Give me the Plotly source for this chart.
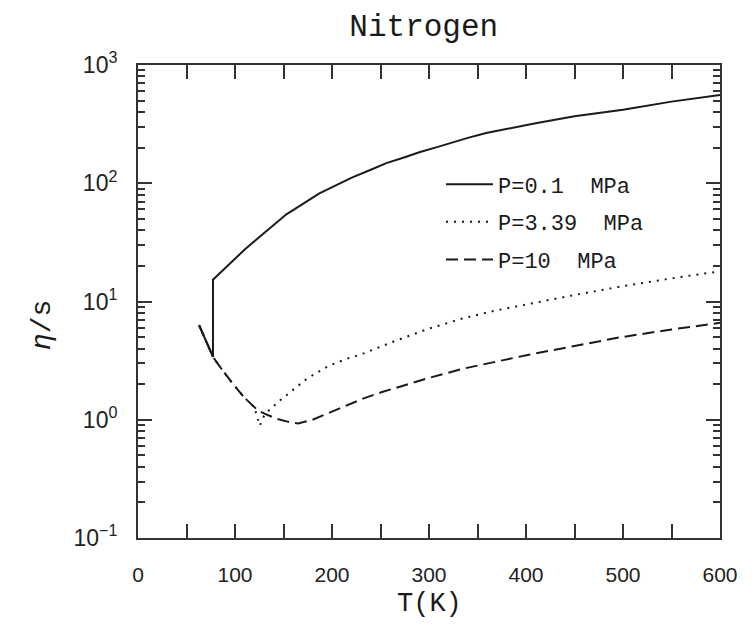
import plotly.graph_objects as go

# Temperature (K) and eta/s for nitrogen along three isobars
T_01 = [63, 70, 77.3, 77.3, 85, 92, 100, 110, 120, 135, 153, 170, 187, 205, 221, 240, 256, 275,
        290, 310, 324, 340, 359, 385, 410, 450, 500, 550, 600]
eta_s_01 = [6.3, 4.6, 3.4, 15.3, 17.6, 20.2, 23.3, 27.5, 32.3, 41, 54.6, 67, 82, 97, 112, 130, 148, 166,
            183, 204, 222, 242, 266, 293, 322, 368, 418, 490, 557]

T_339 = [63, 70, 77.3, 86, 98, 110, 120, 123, 125.5, 130, 135, 146, 160, 174, 197, 215, 232, 250, 266,
         300, 335, 369, 400, 450, 496, 550, 600]
eta_s_339 = [6.3, 4.6, 3.4, 2.7, 2.0, 1.53, 1.27, 1.05, 0.89, 1.08, 1.2, 1.45, 1.8, 2.22, 2.87, 3.27, 3.62,
             4.15, 4.67, 5.9, 7.2, 8.4, 9.45, 11.35, 13.3, 15.7, 18.0]

T_10 = [63, 70, 77.3, 86, 98, 110, 123.5, 131, 143, 155, 165, 180, 197, 215, 232, 250, 266, 300, 335,
        369, 403, 450, 496, 550, 600]
eta_s_10 = [6.3, 4.6, 3.4, 2.7, 2.0, 1.53, 1.2, 1.12, 1.02, 0.96, 0.93, 1.0, 1.15, 1.32, 1.51, 1.7, 1.87,
            2.26, 2.7, 3.1, 3.55, 4.2, 4.96, 5.8, 6.6]

series_names = ["P=0.1  MPa", "P=3.39  MPa", "P=10  MPa"]

y_ticks = [0.1, 1, 10, 100, 1000]
y_tick_text = ["10<sup>\u22121</sup>", "10<sup>0</sup>", "10<sup>1</sup>", "10<sup>2</sup>", "10<sup>3</sup>"]
y_minor = [m * d for d in (0.1, 1, 10, 100) for m in range(2, 10)]

INK = "#1a1a1a"
FRAME = "#333"
MONO = "Liberation Mono, Courier New, monospace"
SANS = "Liberation Sans, Arial, sans-serif"
Y_RANGE = [-1, 3]

fig = go.Figure()
styles = ["solid", "2px,6px", "12px,6px"]
# the last isobar sits on an overlaid log axis that carries the minor decade ticks
yaxes = ["y", "y", "y2"]
for i, (xs, ys) in enumerate([(T_01, eta_s_01), (T_339, eta_s_339), (T_10, eta_s_10)]):
    fig.add_trace(go.Scatter(
        x=xs, y=ys, mode="lines", name=series_names[i],
        legendgroup=f"g{i}", yaxis=yaxes[i],
        line=dict(color=INK, width=2, dash=styles[i]),
    ))

axis_common = dict(
    showline=True, linecolor=FRAME, linewidth=2, mirror="allticks",
    ticks="inside", ticklen=14, tickwidth=1.5, tickcolor=FRAME,
    showgrid=False, zeroline=False,
)

fig.update_xaxes(
    range=[0, 600], tickmode="linear", tick0=0, dtick=100, ticklabelstandoff=17,
    tickfont=dict(family=SANS, size=21, color="#222"),
    minor=dict(ticks="inside", ticklen=7, tickmode="linear", tick0=0, dtick=50,
               tickwidth=1.5, tickcolor=FRAME, showgrid=False),
    **axis_common,
)

fig.update_layout(
    width=756, height=629,
    margin=dict(l=138, r=36, t=65, b=91),
    paper_bgcolor="white", plot_bgcolor="white",
    yaxis=dict(
        type="log", range=Y_RANGE, tickvals=y_ticks, ticktext=y_tick_text, ticklabelstandoff=14,
        tickfont=dict(family=SANS, size=23, color="#222"),
        **axis_common,
    ),
    yaxis2=dict(
        type="log", range=Y_RANGE, overlaying="y", side="left", anchor="x",
        tickvals=y_minor, showticklabels=False,
        ticks="inside", ticklen=7, tickwidth=1.5, tickcolor=FRAME,
        mirror="ticks", showline=False, showgrid=False, zeroline=False,
    ),
    title=dict(text="Nitrogen", x=0.491, xref="paper", y=1 - 25 / 629, yref="container",
               xanchor="center", yanchor="middle",
               font=dict(family=MONO, size=31, color=INK)),
    legend=dict(x=0.5206, y=0.792, xanchor="left", yanchor="top",
                bgcolor="rgba(0,0,0,0)", tracegroupgap=6, itemwidth=47,
                font=dict(family=MONO, size=22, color=INK)),
    annotations=[
        dict(text="T(K)", x=0.5, y=-0.14, xref="paper", yref="paper",
             xanchor="center", yanchor="middle", showarrow=False,
             font=dict(family=MONO, size=27, color=INK)),
        dict(text="<i>\u03b7</i>/s", x=-0.165, y=0.45, xref="paper", yref="paper",
             xanchor="center", yanchor="middle", showarrow=False, textangle=-90,
             font=dict(family=MONO, size=28, color=INK)),
    ],
)

fig.write_html("out.html")
